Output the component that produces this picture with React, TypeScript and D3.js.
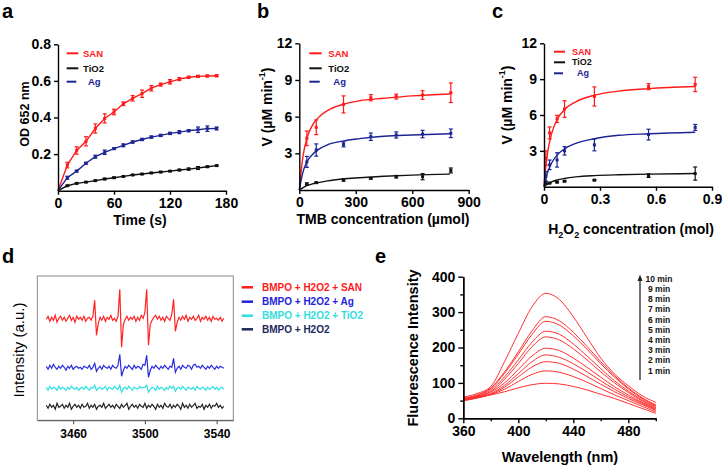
import React, { useRef, useEffect } from "react";
import * as d3 from "d3";

const FONT = "'Liberation Sans', Arial, Helvetica, sans-serif";
const RED = "#ff1a1a";
const NAVY = "#1c2494";
const BLACK = "#111111";

// ---- panel a : OD 652 nm vs time
const timeS = [0, 10, 20, 30, 40, 50, 60, 70, 80, 90, 100, 110, 120, 130, 140, 150, 160, 170];
const odSan = [0, 0.14, 0.22, 0.27, 0.34, 0.395, 0.43, 0.475, 0.505, 0.53, 0.56, 0.58, 0.595, 0.61, 0.62, 0.625, 0.627, 0.628];
const odSanErr = [0, 0.015, 0.02, 0.025, 0.025, 0.025, 0.015, 0.01, 0.015, 0.02, 0.015, 0.008, 0.012, 0.008, 0.005, 0.005, 0.005, 0.005];
const odAg = [0, 0.071, 0.107, 0.15, 0.186, 0.21, 0.23, 0.248, 0.266, 0.28, 0.293, 0.302, 0.313, 0.32, 0.328, 0.333, 0.339, 0.34];
const odAgErr = [0, 0.008, 0.005, 0.005, 0.008, 0.012, 0.005, 0.008, 0.006, 0.006, 0.006, 0.006, 0.006, 0.008, 0.006, 0.015, 0.015, 0.008];
const odTi = [0, 0.027, 0.04, 0.047, 0.055, 0.064, 0.071, 0.078, 0.086, 0.091, 0.097, 0.102, 0.107, 0.113, 0.118, 0.124, 0.131, 0.137];
const odTiErr = [0, 0.003, 0.003, 0.003, 0.003, 0.004, 0.004, 0.003, 0.003, 0.003, 0.003, 0.003, 0.003, 0.004, 0.006, 0.008, 0.004, 0.003];

// ---- panel b : rate vs TMB
const tmbConc = [40, 90, 235, 380, 515, 655, 805];
const tmbSan = [4.23, 5.13, 7.0, 7.55, 7.64, 7.77, 7.96];
const tmbSanErr = [0.6, 0.6, 0.7, 0.25, 0.2, 0.35, 0.8];
const tmbAg = [2.3, 3.27, 3.73, 4.36, 4.5, 4.58, 4.64];
const tmbAgErr = [0.45, 0.5, 0.2, 0.3, 0.25, 0.3, 0.35];
const tmbTi = [0.5, 0.6, 0.82, 0.95, 1.09, 1.09, 1.6];
const tmbTiErr = [0.08, 0.05, 0.1, 0.05, 0.1, 0.25, 0.2];
const tmbFitX = [0, 20, 40, 70, 100, 150, 230, 320, 450, 600, 800];
const tmbFitSan = [0, 2.8, 4.2, 5.3, 5.9, 6.5, 7.0, 7.3, 7.5, 7.7, 7.85];
const tmbFitAg = [0, 1.5, 2.3, 2.9, 3.3, 3.7, 4.0, 4.2, 4.4, 4.5, 4.6];
const tmbFitTi = [0, 0.2, 0.35, 0.5, 0.6, 0.75, 0.9, 1.0, 1.12, 1.22, 1.3];

// ---- panel c : rate vs H2O2
const h2o2Conc = [0.01, 0.03, 0.07, 0.11, 0.27, 0.56, 0.81];
const h2o2San = [2.4, 4.5, 5.67, 6.5, 7.55, 8.37, 8.56];
const h2o2SanErr = [0.6, 0.5, 0.3, 0.7, 0.8, 0.25, 0.6];
const h2o2Ag = [0.87, 1.83, 2.24, 3.0, 3.5, 4.36, 4.96];
const h2o2AgErr = [0.4, 0.4, 0.6, 0.35, 0.5, 0.45, 0.25];
const h2o2Ti = [0.33, 0.3, 0.38, 0.46, 0.55, 0.93, 1.1];
const h2o2TiErr = [0.1, 0.05, 0.05, 0.05, 0.05, 0.15, 0.55];
const h2o2FitX = [0, 0.01, 0.02, 0.04, 0.07, 0.11, 0.17, 0.27, 0.4, 0.56, 0.81];
const h2o2FitSan = [0, 1.76, 2.93, 4.4, 5.6, 6.45, 7.1, 7.66, 8.0, 8.21, 8.39];
const h2o2FitAg = [0, 0.7, 1.22, 1.96, 2.64, 3.17, 3.62, 4.01, 4.3, 4.43, 4.56];
const h2o2FitTi = [0, 0.13, 0.24, 0.4, 0.56, 0.69, 0.82, 0.93, 1.0, 1.05, 1.1];

const kinLabels = ["SAN", "TiO2", "Ag"];
const kinColors = [RED, BLACK, NAVY];

// ---- panel d : EPR spectra (field 3445..3544 G)
const eprField = d3.range(3445, 3545);
const eprSan = [
  101, 104, 99, 103, 100, 105, 98, 102, 104, 100, 103, 99, 102, 105, 100, 103, 98, 104, 101, 103,
  100, 104, 99, 102, 103, 100, 104, 120, 85, 97, 103, 100, 104, 99, 103, 101, 105, 100, 102, 99,
  104, 131, 73, 96, 101, 104, 100, 103, 101, 104, 99, 103, 100, 105, 102, 108, 131, 75, 96, 100,
  103, 105, 101, 104, 100, 103, 99, 104, 102, 100, 106, 121, 89, 98, 103, 100, 104, 101, 105, 99,
  103, 101, 104, 100, 102, 105, 99, 103, 101, 104, 100, 103, 99, 104, 101, 102, 100, 103, 99, 102,
];
const eprAg = [
  54, 51, 55, 52, 56, 53, 51, 54, 52, 55, 53, 50, 54, 52, 55, 51, 53, 54, 52, 53,
  51, 54, 53, 52, 55, 51, 53, 57, 49, 52, 54, 51, 55, 53, 52, 54, 51, 55, 53, 52,
  55, 66, 44, 50, 54, 52, 55, 53, 51, 55, 52, 54, 53, 51, 56, 55, 65, 43, 50, 54,
  52, 55, 53, 51, 54, 52, 55, 53, 51, 54, 53, 62, 48, 52, 54, 51, 55, 53, 52, 55,
  54, 51, 55, 56, 53, 54, 52, 55, 53, 51, 54, 52, 55, 53, 51, 54, 52, 54, 53, 52,
];
const eprTi = [
  33, 30, 34, 31, 33, 32, 30, 34, 31, 33, 32, 30, 33, 31, 34, 32, 31, 33, 30, 32,
  33, 31, 34, 32, 30, 33, 32, 35, 30, 32, 33, 31, 32, 34, 30, 33, 32, 31, 34, 32,
  31, 35, 28, 32, 33, 31, 34, 32, 30, 33, 32, 31, 34, 32, 33, 33, 35, 28, 31, 33,
  32, 30, 34, 31, 33, 32, 30, 33, 31, 34, 32, 34, 29, 32, 33, 31, 34, 32, 30, 33,
  32, 31, 33, 30, 34, 32, 31, 33, 32, 30, 33, 31, 32, 34, 31, 33, 30, 32, 33, 31,
];
const eprBlank = [
  15, 12, 16, 13, 15, 11, 17, 13, 14, 16, 12, 15, 13, 17, 11, 14, 16, 13, 15, 12,
  16, 13, 14, 17, 12, 15, 13, 16, 11, 14, 15, 13, 17, 12, 14, 16, 13, 15, 12, 16,
  14, 12, 16, 13, 15, 17, 11, 14, 16, 13, 15, 12, 16, 14, 13, 17, 12, 15, 13, 16,
  14, 11, 16, 13, 15, 12, 17, 14, 13, 16, 12, 15, 13, 16, 14, 11, 17, 13, 15, 12,
  16, 13, 15, 17, 12, 14, 13, 16, 11, 15, 13, 16, 12, 15, 14, 17, 13, 15, 12, 14,
];
const eprLabels = ["BMPO + H2O2 + SAN", "BMPO + H2O2 + Ag", "BMPO + H2O2 + TiO2", "BMPO + H2O2"];
const eprColors = [RED, "#2222dd", "#33dede", "#1c2a5c"];
const eprTraceColors = ["#ff2222", "#2a2ae0", "#2ee0e0", "#222222"];

// ---- panel e : fluorescence spectra
const wavelength = [360, 370, 380, 390, 400, 410, 420, 430, 440, 450, 460, 470, 480, 490, 500];
const fl1 = [56, 60, 66, 75, 86, 95, 99, 97, 90, 80, 68, 56, 42, 28, 14];
const fl2 = [52, 58, 67, 82, 104, 124, 134, 130, 118, 102, 84, 66, 50, 34, 18];
const fl3 = [50, 57, 68, 88, 117, 145, 160, 155, 139, 118, 96, 75, 56, 39, 22];
const fl4 = [50, 58, 70, 93, 126, 160, 179, 172, 154, 131, 106, 82, 61, 42, 25];
const fl5 = [53, 61, 74, 100, 138, 176, 198, 191, 170, 144, 116, 89, 66, 45, 27];
const fl6 = [51, 60, 76, 110, 155, 202, 230, 221, 196, 165, 131, 100, 73, 49, 30];
const fl7 = [54, 63, 80, 117, 165, 215, 246, 237, 210, 176, 140, 106, 77, 52, 33];
const fl8 = [55, 65, 84, 127, 181, 237, 274, 263, 233, 195, 154, 116, 83, 56, 36];
const fl9 = [57, 66, 86, 131, 188, 247, 287, 275, 243, 203, 160, 120, 86, 58, 38];
const fl10 = [60, 70, 90, 160, 240, 315, 353, 335, 287, 228, 170, 125, 92, 64, 45];
const flTimes = ["1 min", "2 min", "3 min", "4 min", "5 min", "6 min", "7 min", "8 min", "9 min", "10 min"];

type Sel = d3.Selection<SVGGElement, unknown, null, undefined>;

function styleAxis(g: Sel, size = 14) {
  g.selectAll("path, line").attr("stroke", "#000").attr("stroke-width", 1.4);
  g.selectAll("text")
    .attr("fill", "#000")
    .attr("font-size", size)
    .attr("font-weight", "bold")
    .attr("font-family", FONT);
  g.attr("font-family", FONT);
}

function drawKinetic(root: Sel, p: any) {
  const g = root.append("g");
  const x = d3.scaleLinear().domain(p.xDomain).range(p.xRange);
  const y = d3.scaleLinear().domain(p.yDomain).range(p.yRange);

  p.series.forEach((s: any) => {
    const pts = s.fitY
      ? p.fitX.map((v: number, i: number) => [v, s.fitY[i]])
      : p.x.map((v: number, i: number) => [v, s.y[i]]);
    const line = d3
      .line<number[]>()
      .x((d) => x(d[0]))
      .y((d) => y(d[1]))
      .curve(s.fitY ? d3.curveMonotoneX : d3.curveLinear);
    g.append("path").datum(pts).attr("d", line).attr("fill", "none").attr("stroke", s.color).attr("stroke-width", 1.4);

    p.x.forEach((xv: number, i: number) => {
      const e = s.err[i];
      const cx = x(xv);
      if (e > 0) {
        g.append("line").attr("x1", cx).attr("x2", cx).attr("y1", y(s.y[i] - e)).attr("y2", y(s.y[i] + e)).attr("stroke", s.color).attr("stroke-width", 1.2);
        [s.y[i] - e, s.y[i] + e].forEach((v) =>
          g.append("line").attr("x1", cx - 2).attr("x2", cx + 2).attr("y1", y(v)).attr("y2", y(v)).attr("stroke", s.color).attr("stroke-width", 1.2)
        );
      }
      if (xv > 0) g.append("rect").attr("x", cx - 1.5).attr("y", y(s.y[i]) - 1.5).attr("width", 3).attr("height", 3).attr("fill", s.color);
    });
  });

  const xa = g.append("g").attr("transform", `translate(0,${p.yRange[0]})`)
    .call(d3.axisBottom(x).tickValues(p.xTicks).tickSize(4).tickSizeOuter(0).tickPadding(3).tickFormat((d: any) => String(d)));
  styleAxis(xa);
  const ya = g.append("g").attr("transform", `translate(${p.xRange[0]},0)`)
    .call(d3.axisLeft(y).tickValues(p.yTicks).tickSize(4).tickSizeOuter(0).tickPadding(3).tickFormat(p.yFmt));
  styleAxis(ya);

  // legend
  kinLabels.forEach((lab, i) => {
    const ly = p.legend.y[i];
    g.append("line").attr("x1", p.legend.x1).attr("x2", p.legend.x2 - (i === 2 ? 2 : 0)).attr("y1", ly).attr("y2", ly).attr("stroke", kinColors[i]).attr("stroke-width", 2);
    g.append("text").attr("x", p.legend.tx + (i === 2 ? 5 : 0)).attr("y", ly).attr("dominant-baseline", "central")
      .attr("font-size", p.legend.size).attr("font-weight", "bold").attr("fill", kinColors[i]).text(lab);
  });
  return g;
}

function rotTitle(g: Sel, cx: number, cy: number, size: number, weight = "bold") {
  return g.append("text").attr("transform", `translate(${cx},${cy}) rotate(-90)`).attr("text-anchor", "middle")
    .attr("dominant-baseline", "central").attr("font-size", size).attr("font-weight", weight).attr("fill", "#000");
}

const App = () => {
  const svgRef = useRef<SVGSVGElement>(null);

  useEffect(() => {
    const svg = d3.select(svgRef.current);
    svg.selectAll("*").remove();
    const root = svg.append("g") as unknown as Sel;

    // panel letters
    [["a", 2, 18], ["b", 257, 18], ["c", 492, 18], ["d", 2, 263], ["e", 375, 263]].forEach(([t, x, y]) =>
      root.append("text").attr("x", x as number).attr("y", y as number).attr("font-size", 20).attr("font-weight", "bold").text(t as string)
    );

    // ---- a
    drawKinetic(root, {
      xDomain: [0, 180], xRange: [58, 226], yDomain: [0, 0.8], yRange: [190.7, 44.3],
      xTicks: [0, 60, 120, 180], yTicks: [0.2, 0.4, 0.6, 0.8], yFmt: d3.format(".1f"),
      x: timeS,
      series: [
        { color: RED, y: odSan, err: odSanErr },
        { color: BLACK, y: odTi, err: odTiErr },
        { color: NAVY, y: odAg, err: odAgErr },
      ],
      legend: { x1: 66.7, x2: 78.3, tx: 83, y: [53.3, 68.3, 81.7], size: 9.5 },
    });
    rotTitle(root, 25, 114, 12.5).text("OD 652 nm");
    root.append("text").attr("x", 140).attr("y", 225).attr("text-anchor", "middle").attr("font-size", 14).attr("font-weight", "bold").text("Time (s)");

    // ---- b
    drawKinetic(root, {
      xDomain: [0, 900], xRange: [299.3, 468.7], yDomain: [0, 12], yRange: [190, 43.3],
      xTicks: [0, 300, 600, 900], yTicks: [3, 6, 9, 12], yFmt: (d: any) => String(d),
      x: tmbConc, fitX: tmbFitX,
      series: [
        { color: RED, y: tmbSan, err: tmbSanErr, fitY: tmbFitSan },
        { color: BLACK, y: tmbTi, err: tmbTiErr, fitY: tmbFitTi },
        { color: NAVY, y: tmbAg, err: tmbAgErr, fitY: tmbFitAg },
      ],
      legend: { x1: 309.3, x2: 321.7, tx: 328.3, y: [53.3, 68.3, 81.7], size: 9.5 },
    });
    const vb = rotTitle(root, 266.7, 107, 14);
    vb.append("tspan").text("V (µM min");
    vb.append("tspan").attr("font-size", 9).attr("dy", -5).text("-1");
    vb.append("tspan").attr("dy", 5).text(")");
    root.append("text").attr("x", 383).attr("y", 224).attr("text-anchor", "middle").attr("font-size", 14).attr("font-weight", "bold").text("TMB concentration (µmol)");

    // ---- c
    drawKinetic(root, {
      xDomain: [0, 0.9], xRange: [544, 712], yDomain: [0, 12], yRange: [186.7, 43.3],
      xTicks: [0, 0.3, 0.6, 0.9], yTicks: [3, 6, 9, 12], yFmt: (d: any) => String(d),
      x: h2o2Conc, fitX: h2o2FitX,
      series: [
        { color: RED, y: h2o2San, err: h2o2SanErr, fitY: h2o2FitSan },
        { color: BLACK, y: h2o2Ti, err: h2o2TiErr, fitY: h2o2FitTi },
        { color: NAVY, y: h2o2Ag, err: h2o2AgErr, fitY: h2o2FitAg },
      ],
      legend: { x1: 554, x2: 565, tx: 572, y: [51.7, 62.3, 73.3], size: 9 },
    });
    const vc = rotTitle(root, 506.7, 105, 14);
    vc.append("tspan").text("V (µM min");
    vc.append("tspan").attr("font-size", 9).attr("dy", -5).text("-1");
    vc.append("tspan").attr("dy", 5).text(")");
    const hc = root.append("text").attr("x", 631).attr("y", 234).attr("text-anchor", "middle").attr("font-size", 14).attr("font-weight", "bold");
    hc.append("tspan").text("H");
    hc.append("tspan").attr("font-size", 9).attr("dy", 4).text("2");
    hc.append("tspan").attr("dy", -4).text("O");
    hc.append("tspan").attr("font-size", 9).attr("dy", 4).text("2");
    hc.append("tspan").attr("dy", -4).text(" concentration (mol)");

    // ---- d
    const gd = root.append("g");
    const xd = d3.scaleLinear().domain([3440, 3549.3]).range([37.3, 233.3]);
    const yd = d3.scaleLinear().domain([0, 144.3]).range([420.3, 276]);
    gd.append("rect").attr("x", 37.3).attr("y", 276).attr("width", 196).attr("height", 144.3).attr("fill", "none").attr("stroke", "#8a8a8a").attr("stroke-width", 1);
    const lineD = d3.line<number>().x((_, i) => xd(eprField[i])).y((d) => yd(d));
    [eprSan, eprAg, eprTi, eprBlank].forEach((tr, k) =>
      gd.append("path").datum(tr).attr("d", lineD).attr("fill", "none").attr("stroke", eprTraceColors[k]).attr("stroke-width", 1.2)
    );
    const xda = gd.append("g").attr("transform", "translate(0,420.3)")
      .call(d3.axisBottom(xd).tickValues([3460, 3500, 3540]).tickSize(4).tickSizeOuter(0).tickPadding(5).tickFormat((d: any) => String(d)));
    styleAxis(xda, 12);
    xda.selectAll("path, line").attr("stroke", "#555").attr("stroke-width", 1.1);
    rotTitle(root, 18, 350, 15, "normal").text("Intensity (a.u.)");
    eprLabels.forEach((lab, i) => {
      const ly = [287.3, 301.7, 315.7, 329.3][i];
      gd.append("line").attr("x1", 241.7).attr("x2", 253).attr("y1", ly).attr("y2", ly).attr("stroke", eprColors[i]).attr("stroke-width", 2.5);
      gd.append("text").attr("x", 262).attr("y", ly).attr("dominant-baseline", "central").attr("font-size", 10).attr("font-weight", "bold").attr("fill", eprColors[i]).text(lab);
    });

    // ---- e
    const ge = root.append("g");
    const xe = d3.scaleLinear().domain([360, 500]).range([463.3, 655.8]);
    const ye = d3.scaleLinear().domain([0, 400]).range([418.3, 276.7]);
    const lineE = d3.line<number>().x((_, i) => xe(wavelength[i])).y((d) => ye(d)).curve(d3.curveMonotoneX);
    [fl1, fl2, fl3, fl4, fl5, fl6, fl7, fl8, fl9, fl10].forEach((s) =>
      ge.append("path").datum(s).attr("d", lineE).attr("fill", "none").attr("stroke", "#ff3030").attr("stroke-width", 1)
    );
    const xeMinor = ge.append("g").attr("transform", "translate(0,418.3)")
      .call(d3.axisBottom(xe).tickValues([380, 420, 460, 500]).tickSize(3).tickSizeOuter(0).tickFormat(() => ""));
    styleAxis(xeMinor);
    const xea = ge.append("g").attr("transform", "translate(0,418.3)")
      .call(d3.axisBottom(xe).tickValues([360, 400, 440, 480]).tickSize(5).tickSizeOuter(0).tickPadding(3).tickFormat((d: any) => String(d)));
    styleAxis(xea);
    const yeMinor = ge.append("g").attr("transform", "translate(463.3,0)")
      .call(d3.axisLeft(ye).tickValues([50, 150, 250, 350]).tickSize(3).tickSizeOuter(0).tickFormat(() => ""));
    styleAxis(yeMinor);
    const yea = ge.append("g").attr("transform", "translate(463.3,0)")
      .call(d3.axisLeft(ye).tickValues([0, 100, 200, 300, 400]).tickSize(5).tickSizeOuter(0).tickPadding(3).tickFormat((d: any) => String(d)));
    styleAxis(yea);
    rotTitle(root, 413.3, 348, 14.5).text("Fluorescence Intensity");
    root.append("text").attr("x", 560).attr("y", 462).attr("text-anchor", "middle").attr("font-size", 14.5).attr("font-weight", "bold").text("Wavelength (nm)");
    // time arrow
    ge.append("line").attr("x1", 640).attr("x2", 640).attr("y1", 380).attr("y2", 280).attr("stroke", "#444").attr("stroke-width", 1.5);
    ge.append("path").attr("d", "M637.5,281 L640,274.5 L642.5,281 Z").attr("fill", "#222");
    flTimes.forEach((t, i) => {
      ge.append("text").attr("x", i === 9 ? 645.5 : 648).attr("y", 370.5 - i * 10.2).attr("dominant-baseline", "central")
        .attr("font-size", 8.5).attr("font-weight", "bold").attr("fill", "#111").text(t);
    });
  }, []);

  return (
    <svg ref={svgRef} width={722} height={466} style={{ position: "absolute", left: 0, top: 0, background: "#fff", fontFamily: FONT }} />
  );
};

export default App;
